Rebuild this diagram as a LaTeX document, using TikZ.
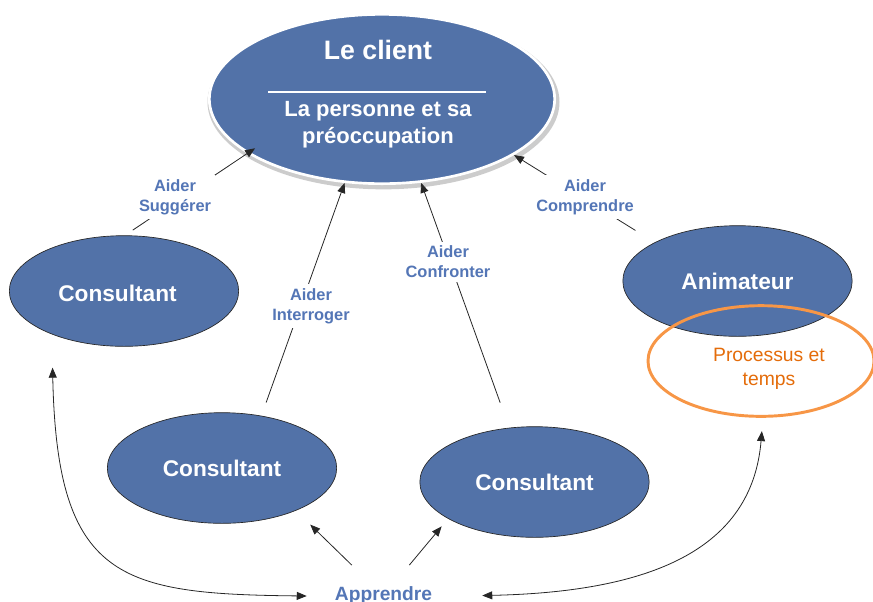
\documentclass[tikz,border=0pt]{standalone}
\usepackage{fontspec}
\setmainfont{Liberation Sans}
\usetikzlibrary{arrows.meta, shapes.geometric}
\definecolor{discblue}{RGB}{82,114,168}
\definecolor{wordblue}{RGB}{84,118,182}
\definecolor{ringorange}{RGB}{247,150,70}
\definecolor{textorange}{RGB}{228,108,10}
\tikzset{
    role/.style = {
        ellipse, fill=discblue, draw=black!85, line width=0.5pt,
        minimum width=172pt, minimum height=83pt, inner sep=0pt,
        text=white, font=\fontsize{17}{20}\selectfont\bfseries
    },
    verb/.style = {
        fill=white, inner sep=3pt, align=center, text=wordblue,
        font=\fontsize{12.3}{15}\selectfont\bfseries
    },
    link/.style = {line width=0.6pt, draw=black!85},
    arrow/.style = {link, -{Triangle[length=7.5pt, width=6pt]}},
    twoway/.style = {link, {Triangle[length=7.5pt, width=6pt]}-{Triangle[length=7.5pt, width=6pt]}}
}

\begin{document}
\begin{tikzpicture}[x=0.75pt, y=-0.75pt]
    \useasboundingbox (0, 0) rectangle (873, 601);
    % le client
    \node[ellipse, fill=gray!40, minimum width=264pt, minimum height=131pt] (clientShade) at (383.5, 102) {};
    \node[ellipse, fill=discblue, draw=white, line width=2pt, minimum width=259pt, minimum height=127pt] (client) at (382, 99) {};
    \node[text=white, font=\fontsize{20}{24}\selectfont\bfseries] (clientTitle) at (378, 50) {Le client};
    \draw[white, line width=1.1pt] (268, 92) -- (486, 92);
    \node[text=white, align=center, font=\fontsize{16.5}{20}\selectfont\bfseries] (clientSub) at (378, 125) {La personne et sa\\préoccupation};

    % les autres ellipses
    \node[role] (consLeft) at (124, 291) {};
    \node[role] (consMidL) at (222, 468) {Consultant};
    \node[role] (consMidR) at (534.5, 482) {Consultant};
    \node[role] (anim) at (737.5, 281) {Animateur};
    \node[text=white, font=\fontsize{17}{20}\selectfont\bfseries] (consLeftText) at (117.5, 293) {Consultant};
    \node[ellipse, draw=ringorange, line width=2.2pt, minimum width=169.5pt, minimum height=83pt] (process) at (761, 361) {};
    \node[text=textorange, align=center, font=\fontsize{14.5}{18}\selectfont] (processText) at (769, 369) {Processus et\\temps};
    \node[text=wordblue, inner sep=0pt, minimum width=114.75pt, minimum height=46pt,
        font=\fontsize{14.4}{17}\selectfont\bfseries] (learn) at (383.5, 596) {Apprendre};

    % vers le client
    \draw[arrow, shorten <=7pt, shorten >=-7pt] (consLeft.89) -- (client.202);
    \draw[arrow, shorten <=10.5pt] (consMidL.53) -- (client.246);
    \draw[arrow, shorten <=20pt] (consMidR.115) -- (client.295);
    \draw[arrow, shorten <=17pt] (anim.155) -- (client.337);
    \node[verb] (suggest) at (175, 197) {Aider\\Suggérer};
    \node[verb] (question) at (311, 306) {Aider\\Interroger};
    \node[verb] (confront) at (448, 262) {Aider\\Confronter};
    \node[verb] (understand) at (585, 197) {Aider\\Comprendre};

    % apprendre
    \draw[arrow, shorten >=15pt] (learn) -- (consMidL.330);
    \draw[arrow, shorten >=7.5pt] (learn) -- (consMidR.203);
    \draw[twoway, shorten >=25pt] (learn.west) .. controls (120, 594) and (57, 580) .. (consLeft.211);
    \draw[twoway, shorten <=16.5pt, shorten >=10pt] (learn.east) .. controls (650, 592) and (752, 550) .. (process.272);
\end{tikzpicture}
\end{document}
